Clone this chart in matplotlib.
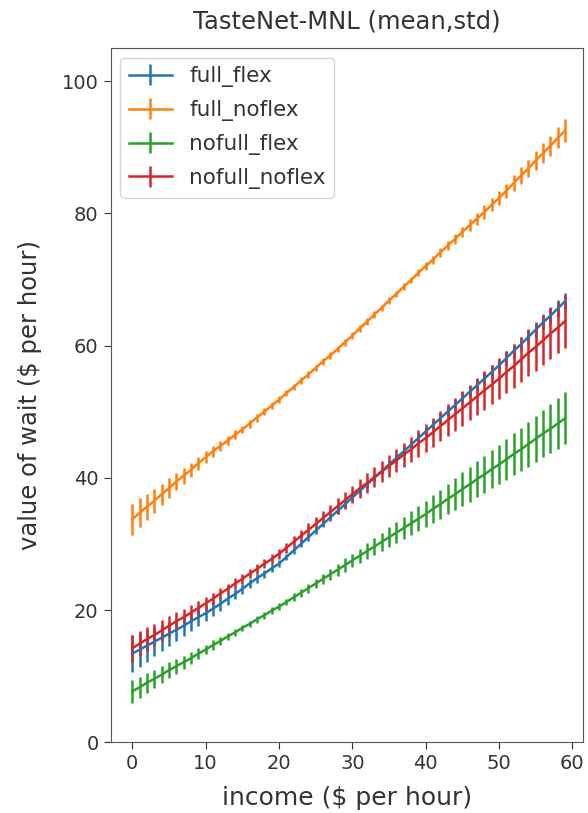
import matplotlib
matplotlib.use("Agg")
import matplotlib.pyplot as plt
import numpy as np

income = list(range(60))

full_flex_mean = [
    13.4, 14.0, 14.6, 15.2, 15.8, 16.4, 17.0, 17.6, 18.3, 18.9,
    19.5, 20.2, 20.9, 21.7, 22.4, 23.2, 24.0, 24.8, 25.5, 26.3,
    27.0, 28.0, 29.0, 30.0, 31.0, 32.0, 33.0, 34.0, 35.0, 36.0,
    37.0, 38.0, 39.0, 40.0, 41.0, 42.0, 43.0, 44.0, 45.0, 46.0,
    47.0, 48.0, 49.0, 50.0, 51.0, 52.0, 53.0, 54.0, 55.0, 56.0,
    57.0, 58.1, 59.2, 60.2, 61.3, 62.4, 63.5, 64.5, 65.6, 66.7,
]
full_flex_std = [
    2.8, 2.6, 2.4, 2.2, 2.0, 1.8, 1.7, 1.5, 1.4, 1.3,
    1.2, 1.1, 1.0, 0.9, 0.8, 0.8, 0.7, 0.7, 0.6, 0.6,
    0.5, 0.5, 0.5, 0.5, 0.5, 0.5, 0.5, 0.5, 0.5, 0.5,
    0.5, 0.5, 0.5, 0.5, 0.5, 0.6, 0.6, 0.6, 0.6, 0.7,
    0.7, 0.7, 0.8, 0.8, 0.8, 0.9, 0.9, 0.9, 1.0, 1.0,
    1.0, 1.1, 1.1, 1.1, 1.2, 1.2, 1.2, 1.3, 1.3, 1.3,
]

full_noflex_mean = [
    33.7, 34.7, 35.6, 36.5, 37.5, 38.4, 39.4, 40.3, 41.2, 42.2,
    43.1, 44.0, 44.8, 45.6, 46.5, 47.3, 48.2, 49.1, 50.0, 50.9,
    51.8, 52.8, 53.7, 54.7, 55.6, 56.6, 57.6, 58.5, 59.5, 60.5,
    61.5, 62.6, 63.6, 64.7, 65.7, 66.8, 67.8, 68.9, 69.9, 71.0,
    72.0, 73.0, 74.1, 75.1, 76.1, 77.2, 78.2, 79.2, 80.2, 81.3,
    82.3, 83.4, 84.6, 85.7, 86.8, 88.0, 89.1, 90.2, 91.4, 92.5,
]
full_noflex_std = [
    2.4, 2.2, 2.0, 1.8, 1.6, 1.5, 1.3, 1.2, 1.1, 1.0,
    0.9, 0.8, 0.8, 0.7, 0.7, 0.6, 0.6, 0.6, 0.5, 0.5,
    0.5, 0.5, 0.5, 0.5, 0.5, 0.5, 0.5, 0.5, 0.5, 0.5,
    0.5, 0.5, 0.5, 0.5, 0.5, 0.5, 0.5, 0.5, 0.5, 0.5,
    0.6, 0.6, 0.7, 0.7, 0.8, 0.8, 0.9, 0.9, 1.0, 1.0,
    1.1, 1.1, 1.2, 1.3, 1.3, 1.4, 1.5, 1.5, 1.6, 1.7,
]

nofull_flex_mean = [
    7.7, 8.3, 9.0, 9.6, 10.2, 10.9, 11.5, 12.1, 12.7, 13.4,
    14.0, 14.7, 15.3, 16.0, 16.6, 17.3, 17.9, 18.6, 19.2, 19.9,
    20.5, 21.2, 21.9, 22.6, 23.3, 24.0, 24.7, 25.4, 26.1, 26.8,
    27.5, 28.2, 28.9, 29.6, 30.3, 31.0, 31.7, 32.4, 33.1, 33.8,
    34.5, 35.3, 36.0, 36.8, 37.5, 38.3, 39.0, 39.8, 40.5, 41.3,
    42.0, 42.8, 43.6, 44.3, 45.1, 45.9, 46.7, 47.4, 48.2, 49.0,
]
nofull_flex_std = [
    1.7, 1.6, 1.5, 1.4, 1.3, 1.2, 1.1, 1.0, 0.9, 0.8,
    0.7, 0.7, 0.6, 0.6, 0.5, 0.5, 0.5, 0.5, 0.5, 0.5,
    0.5, 0.5, 0.6, 0.6, 0.7, 0.7, 0.8, 0.8, 0.9, 1.0,
    1.0, 1.1, 1.2, 1.3, 1.4, 1.5, 1.6, 1.7, 1.8, 1.9,
    2.0, 2.1, 2.2, 2.3, 2.4, 2.5, 2.6, 2.7, 2.8, 2.9,
    3.0, 3.1, 3.2, 3.3, 3.4, 3.5, 3.6, 3.7, 3.8, 3.9,
]

nofull_noflex_mean = [
    14.2, 14.9, 15.6, 16.2, 16.9, 17.6, 18.3, 18.9, 19.6, 20.3,
    21.0, 21.7, 22.5, 23.2, 24.0, 24.7, 25.5, 26.2, 27.0, 27.7,
    28.5, 29.4, 30.3, 31.2, 32.1, 33.0, 33.9, 34.8, 35.7, 36.6,
    37.5, 38.4, 39.2, 40.1, 40.9, 41.8, 42.6, 43.5, 44.3, 45.2,
    46.0, 46.9, 47.8, 48.7, 49.6, 50.5, 51.4, 52.3, 53.2, 54.1,
    55.0, 56.0, 56.9, 57.9, 58.9, 59.8, 60.8, 61.8, 62.7, 63.7,
]
nofull_noflex_std = [
    2.0, 1.9, 1.8, 1.7, 1.6, 1.5, 1.4, 1.3, 1.2, 1.1,
    1.0, 0.9, 0.9, 0.8, 0.8, 0.7, 0.7, 0.7, 0.7, 0.7,
    0.8, 0.8, 0.9, 0.9, 1.0, 1.0, 1.1, 1.1, 1.2, 1.3,
    1.3, 1.4, 1.5, 1.5, 1.6, 1.7, 1.8, 1.8, 1.9, 2.0,
    2.1, 2.2, 2.3, 2.4, 2.5, 2.6, 2.7, 2.8, 2.9, 3.0,
    3.1, 3.2, 3.3, 3.4, 3.5, 3.6, 3.7, 3.8, 3.9, 4.0,
]

series = [
    ("full_flex", full_flex_mean, full_flex_std),
    ("full_noflex", full_noflex_mean, full_noflex_std),
    ("nofull_flex", nofull_flex_mean, nofull_flex_std),
    ("nofull_noflex", nofull_noflex_mean, nofull_noflex_std),
]

text_color = "#333333"

fig = plt.figure(figsize=(5.88, 8.13), dpi=100)
ax = fig.add_axes([0.188, 0.087, 0.803, 0.854])

for label, mean, std in series:
    ax.errorbar(income, mean, yerr=std, label=label, linewidth=1.8, elinewidth=1.8)

ax.set_xlim(-2.95, 61.4)
ax.set_ylim(0, 105)
ax.set_xticks([0, 10, 20, 30, 40, 50, 60])
ax.set_yticks([0, 20, 40, 60, 80, 100])
ax.tick_params(labelsize=14, colors=text_color, length=5)
for side in ax.spines.values():
    side.set_color("#555555")
ax.set_xlabel("income ($ per hour)", fontsize=18, color=text_color, labelpad=9)
ax.set_ylabel("value of wait ($ per hour)", fontsize=17.5, color=text_color, labelpad=14)
ax.set_title("TasteNet-MNL (mean,std)", fontsize=17.5, color=text_color, pad=14)
leg = ax.legend(loc="upper left", fontsize=15.5, handlelength=2.0,
                labelspacing=0.6, borderaxespad=0.45)
for t in leg.get_texts():
    t.set_color(text_color)

fig.savefig("out.png", dpi=100)
